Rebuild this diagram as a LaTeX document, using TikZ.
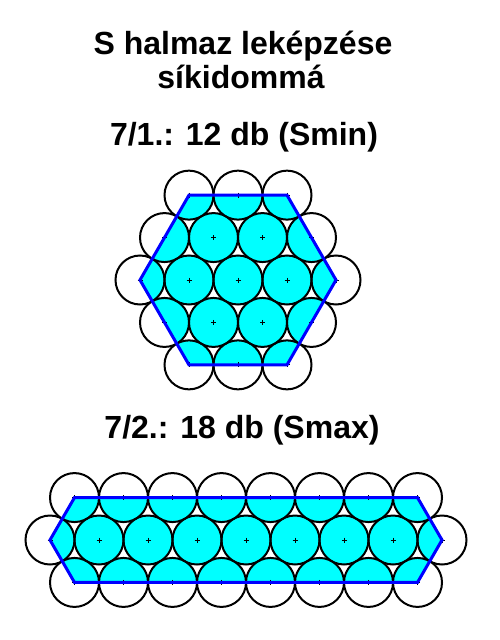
\documentclass[tikz,border=0pt]{standalone}
\usepackage{fontspec}
\setmainfont{Liberation Sans}
\definecolor{hexblue}{RGB}{0,0,255}
\definecolor{fillcyan}{RGB}{0,255,255}
\begin{document}
\begin{tikzpicture}[x=1pt,y=-1pt,
  ring/.style={draw=black,line width=2pt},
  plusmark/.style={draw=black,line width=1pt},
  outline/.style={draw=hexblue,line width=3pt,line join=miter},
  titletext/.style={font=\fontsize{32}{38}\selectfont\bfseries,anchor=base,inner sep=0pt}]
\useasboundingbox (0,0) rectangle (500,640);
\fill[white] (0,0) rectangle (500,640);

% titles
\node[titletext] (t1) at (243,54) {S halmaz leképzése};
\node[titletext] (t2) at (241,88) {síkidommá};
\node[titletext] (t3) at (244,145) {7/1.: 12 db (Smin)};
\node[titletext] (t4) at (242,438) {7/2.: 18 db (Smax)};

% ---------- shape 1: hexagon ----------
\coordinate (a1) at (140,280);
\coordinate (a2) at (189,195.13);
\coordinate (a3) at (287,195.13);
\coordinate (a4) at (336,280);
\coordinate (a5) at (287,364.87);
\coordinate (a6) at (189,364.87);
\begin{scope}
  \clip (a1) -- (a2) -- (a3) -- (a4) -- (a5) -- (a6) -- cycle;
  \foreach \rw/\nn in {-2/3,-1/4,0/5,1/4,2/3}
    \foreach \kk in {1,...,\nn}
      \fill[fillcyan] ({238+(\kk-(\nn+1)/2)*49},{280+\rw*42.435}) circle (24.5);
\end{scope}
\foreach \rw/\nn in {-2/3,-1/4,0/5,1/4,2/3}
  \foreach \kk in {1,...,\nn}
    \draw[ring] ({238+(\kk-(\nn+1)/2)*49},{280+\rw*42.435}) circle (24.5);
\foreach \rw/\nn in {-2/3,-1/4,0/5,1/4,2/3}
  \foreach \kk in {1,...,\nn}
    \draw[plusmark] ({238+(\kk-(\nn+1)/2)*49-2.5},{280+\rw*42.435}) -- ++(5,0)
                    ({238+(\kk-(\nn+1)/2)*49},{280+\rw*42.435-2.5}) -- ++(0,5);
\draw[outline] (a1) -- (a2) -- (a3) -- (a4) -- (a5) -- (a6) -- cycle;

% ---------- shape 2: elongated hexagon ----------
\coordinate (b1) at (50,540);
\coordinate (b2) at (74.5,497.57);
\coordinate (b3) at (417.5,497.57);
\coordinate (b4) at (442,540);
\coordinate (b5) at (417.5,582.43);
\coordinate (b6) at (74.5,582.43);
\begin{scope}
  \clip (b1) -- (b2) -- (b3) -- (b4) -- (b5) -- (b6) -- cycle;
  \foreach \rw/\nn in {-1/8,0/9,1/8}
    \foreach \kk in {1,...,\nn}
      \fill[fillcyan] ({246+(\kk-(\nn+1)/2)*49},{540+\rw*42.435}) circle (24.5);
\end{scope}
\foreach \rw/\nn in {-1/8,0/9,1/8}
  \foreach \kk in {1,...,\nn}
    \draw[ring] ({246+(\kk-(\nn+1)/2)*49},{540+\rw*42.435}) circle (24.5);
\foreach \rw/\nn in {-1/8,0/9,1/8}
  \foreach \kk in {1,...,\nn}
    \draw[plusmark] ({246+(\kk-(\nn+1)/2)*49-2.5},{540+\rw*42.435}) -- ++(5,0)
                    ({246+(\kk-(\nn+1)/2)*49},{540+\rw*42.435-2.5}) -- ++(0,5);
\draw[outline] (b1) -- (b2) -- (b3) -- (b4) -- (b5) -- (b6) -- cycle;
\end{tikzpicture}
\end{document}
